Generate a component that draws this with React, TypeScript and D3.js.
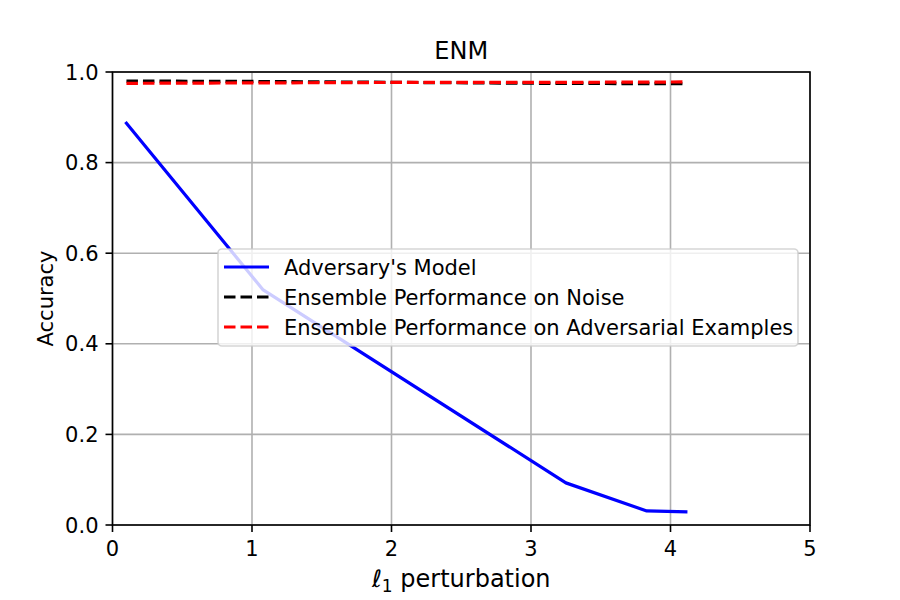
import { useEffect } from 'react';
import * as d3 from 'd3';

// perturbation budget (x) and accuracy (y)
const advX = [0.1, 1.08, 3.25, 3.83, 4.11];
const advY = [0.887, 0.519, 0.093, 0.031, 0.029];
const noiseX = [0.1, 1.1, 2.1, 3.1, 4.1];
const noiseY = [0.98, 0.979, 0.977, 0.975, 0.974];
const advExX = [0.1, 1.1, 2.1, 3.1, 4.1];
const advExY = [0.975, 0.976, 0.977, 0.977, 0.978];

const xTicks = [0, 1, 2, 3, 4, 5];
const yTicks = [0, 0.2, 0.4, 0.6, 0.8, 1.0];

const series = [
  { name: "Adversary's Model", xs: advX, ys: advY, color: 'blue', dash: null },
  { name: 'Ensemble Performance on Noise', xs: noiseX, ys: noiseY, color: 'black', dash: '11.5,5' },
  { name: 'Ensemble Performance on Adversarial Examples', xs: advExX, ys: advExY, color: 'red', dash: '11.5,5' },
];

const width = 900;
const height = 600;
const margin = { top: 72, right: 90, bottom: 75, left: 112.5 };
const font = 'DejaVu Sans, sans-serif';

export default function App() {
  useEffect(() => {
    document.body.style.margin = '0';
  }, []);

  const x = d3.scaleLinear().domain([0, 5]).range([margin.left, width - margin.right]);
  const y = d3.scaleLinear().domain([0, 1]).range([height - margin.bottom, margin.top]);
  const line = d3
    .line<[number, number]>()
    .x((d) => x(d[0]))
    .y((d) => y(d[1]));

  const x0 = x(0);
  const x1 = x(5);
  const y0 = y(0);
  const y1 = y(1);

  // legend box
  const lx = 218;
  const ly = 249;
  const lw = 580;
  const lh = 97;

  return (
    <svg width={width} height={height} style={{ display: 'block', background: 'white' }}>
      {/* grid */}
      {xTicks.map((t) => (
        <line key={'gx' + t} x1={x(t)} x2={x(t)} y1={y0} y2={y1} stroke="#b0b0b0" strokeWidth={1.6} />
      ))}
      {yTicks.map((t) => (
        <line key={'gy' + t} x1={x0} x2={x1} y1={y(t)} y2={y(t)} stroke="#b0b0b0" strokeWidth={1.6} />
      ))}

      {/* data */}
      {series.map((s) => (
        <path
          key={s.name}
          d={line(s.xs.map((v, i) => [v, s.ys[i]] as [number, number])) || ''}
          fill="none"
          stroke={s.color}
          strokeWidth={3.2}
          strokeDasharray={s.dash || undefined}
          strokeLinecap={s.dash ? 'butt' : 'square'}
          strokeLinejoin="round"
        />
      ))}

      {/* spines */}
      <rect x={x0} y={y1} width={x1 - x0} height={y0 - y1} fill="none" stroke="black" strokeWidth={1.6} />

      {/* x ticks */}
      {xTicks.map((t) => (
        <g key={'xt' + t}>
          <line x1={x(t)} x2={x(t)} y1={y0} y2={y0 + 7} stroke="black" strokeWidth={1.6} />
          <text x={x(t)} y={y0 + 31} textAnchor="middle" fontFamily={font} fontSize={21}>
            {t}
          </text>
        </g>
      ))}
      {/* y ticks */}
      {yTicks.map((t) => (
        <g key={'yt' + t}>
          <line x1={x0 - 7} x2={x0} y1={y(t)} y2={y(t)} stroke="black" strokeWidth={1.6} />
          <text x={x0 - 14} y={y(t)} dy="0.36em" textAnchor="end" fontFamily={font} fontSize={21}>
            {t.toFixed(1)}
          </text>
        </g>
      ))}

      {/* labels */}
      <text x={(x0 + x1) / 2} y={59} textAnchor="middle" fontFamily={font} fontSize={24}>
        ENM
      </text>
      <text x={(x0 + x1) / 2} y={587} textAnchor="middle" fontFamily={font} fontSize={24}>
        <tspan fontStyle="italic">ℓ</tspan>
        <tspan fontSize={17} dy={5}>1</tspan>
        <tspan dy={-5}> perturbation</tspan>
      </text>
      <text
        transform={`translate(53,${(y0 + y1) / 2}) rotate(-90)`}
        textAnchor="middle"
        fontFamily={font}
        fontSize={21}
      >
        Accuracy
      </text>

      {/* legend */}
      <rect x={lx} y={ly} width={lw} height={lh} rx={4} fill="white" fillOpacity={0.8} stroke="#cccccc" strokeOpacity={0.8} strokeWidth={1.6} />
      {series.map((s, i) => {
        const cy = ly + 18 + i * 30;
        return (
          <g key={'lg' + s.name}>
            <line x1={lx + 6} x2={lx + 51} y1={cy} y2={cy} stroke={s.color} strokeWidth={3.2} strokeDasharray={s.dash || undefined} />
            <text x={lx + 66} y={cy} dy="0.36em" fontFamily={font} fontSize={21}>
              {s.name}
            </text>
          </g>
        );
      })}
    </svg>
  );
}
